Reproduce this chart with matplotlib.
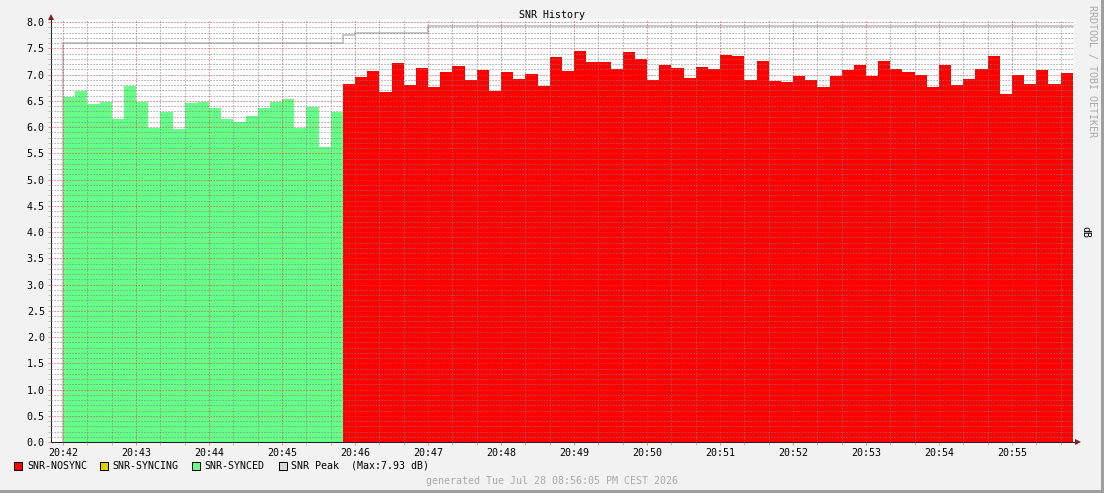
import numpy as np
import matplotlib.pyplot as plt
from matplotlib.patches import Rectangle, Polygon
from matplotlib.ticker import MultipleLocator, FixedLocator, FormatStrFormatter

plt.rcParams['font.family'] = ['DejaVu Sans Mono', 'DejaVu Sans']

W, H = 1104, 493
STEP = 10  # seconds per sample, t=0 is 20:42:00

# SNR samples (dB)
snr_synced = [6.57, 6.69, 6.44, 6.48, 6.15, 6.78, 6.48, 5.99, 6.29, 5.97,
              6.46, 6.48, 6.36, 6.15, 6.09, 6.22, 6.36, 6.48, 6.53, 5.99,
              6.39, 5.62, 6.29]
snr_nosync = [6.82, 6.95, 7.07, 6.67, 7.22, 6.81, 7.12, 6.76, 7.05, 7.16,
              6.90, 7.09, 6.69, 7.05, 6.91, 7.01, 6.79, 7.33, 7.07, 7.45,
              7.24, 7.24, 7.10, 7.43, 7.30, 6.90, 7.18, 7.12, 6.93, 7.14,
              7.10, 7.37, 7.35, 6.90, 7.26, 6.88, 6.86, 6.97, 6.90, 6.76,
              6.97, 7.09, 7.18, 6.97, 7.26, 7.10, 7.05, 7.00, 6.76, 7.18,
              6.81, 6.91, 7.10, 7.35, 6.63, 7.00, 6.82, 7.09, 6.82, 7.03]

# peak line: value changes (time in s, dB)
peak_t = [0, 230, 240, 300, 830]
peak_v = [7.61, 7.75, 7.80, 7.93, 7.93]

time_labels = ['20:42', '20:43', '20:44', '20:45', '20:46', '20:47', '20:48',
               '20:49', '20:50', '20:51', '20:52', '20:53', '20:54', '20:55']

c_nosync = '#ff0000'
c_syncing = '#e0d000'
c_synced = '#66ff88'
c_peak = '#bdbdbd'


def fx(x):
    return x / W


def fy(y):
    return 1 - y / H


fig = plt.figure(figsize=(W / 100, H / 100), dpi=100, facecolor='#f2f2f2')
ax = fig.add_axes([fx(51), fy(442), fx(1074) - fx(51), fy(19) - fy(442)])
ax.set_facecolor('white')

n_s = len(snr_synced)
edges_s = np.arange(n_s + 1) * STEP
edges_n = (np.arange(len(snr_nosync) + 1) + n_s) * STEP

ax.stairs(snr_nosync, edges_n, fill=True, color=c_nosync, baseline=0, zorder=1)
ax.stairs(snr_synced, edges_s, fill=True, color=c_synced, baseline=0, zorder=1)
ax.step([peak_t[0]] + peak_t, [0] + peak_v, where='post', color=c_peak, lw=1.2, zorder=2)

ax.set_xlim(-10, 831)
ax.set_ylim(0, 8.06)

ax.xaxis.set_major_locator(FixedLocator(np.arange(len(time_labels)) * 60))
ax.set_xticklabels(time_labels)
ax.xaxis.set_minor_locator(MultipleLocator(20))
ax.yaxis.set_major_locator(FixedLocator(np.arange(0, 8.01, 0.5)))
ax.yaxis.set_major_formatter(FormatStrFormatter('%.1f'))
ax.yaxis.set_minor_locator(MultipleLocator(0.1))

ax.set_axisbelow(False)
ax.grid(which='minor', color=(0.5, 0.5, 0.5, 0.2), linestyle=(0, (1.4, 2.2)), lw=0.6)
ax.grid(which='major', color=(0.85, 0.25, 0.25, 0.28), linestyle=(0, (1.4, 2.2)), lw=0.6)

ax.tick_params(which='major', length=2, width=0.72, color=(0.87, 0.31, 0.31, 0.6),
               labelsize=7.2, pad=2.5)
ax.tick_params(which='minor', length=2, width=0.72, color=(0.56, 0.56, 0.56, 0.5))

for s in ['top', 'right']:
    ax.spines[s].set_visible(False)
for s in ['left', 'bottom']:
    ax.spines[s].set_color((0.12, 0.12, 0.12))
    ax.spines[s].set_linewidth(0.72)

arrow_c = (0.5, 0.12, 0.12)
fig.add_artist(Polygon([(fx(51), fy(14)), (fx(48), fy(20)), (fx(54), fy(20))],
                       closed=True, transform=fig.transFigure, color=arrow_c, lw=0))
fig.add_artist(Polygon([(fx(1081), fy(442)), (fx(1075), fy(439)), (fx(1075), fy(445))],
                       closed=True, transform=fig.transFigure, color=arrow_c, lw=0))

fig.text(fx(552), fy(15), 'SNR History', ha='center', va='center', fontsize=7.2)
fig.text(fx(1092), fy(5), 'RRDTOOL / TOBI OETIKER', rotation=270, ha='center', va='top',
         fontsize=7.2, color='#a8a8a8')
fig.text(fx(1085), fy(232), 'dB', rotation=270, ha='center', va='center', fontsize=7.2)
fig.text(fx(552), fy(481), 'generated Tue Jul 28 08:56:05 PM CEST 2026', ha='center',
         va='center', fontsize=7.2, color='#aaaaaa')

legend = [(14, 27, c_nosync, 'SNR-NOSYNC'),
          (100, 112, c_syncing, 'SNR-SYNCING'),
          (192, 204, c_synced, 'SNR-SYNCED'),
          (279, 291, '#d8d8d8', 'SNR Peak  (Max:7.93 dB)')]
for bx, tx, col, lab in legend:
    fig.add_artist(Rectangle((fx(bx), fy(470)), 8 / W, 8 / H, transform=fig.transFigure,
                             facecolor=col, edgecolor='black', lw=0.72))
    fig.text(fx(tx), fy(466), lab, ha='left', va='center', fontsize=7.2)

# outer shading
fig.add_artist(Rectangle((0, 0), 1, 3 / H, transform=fig.transFigure, color='#9e9e9e', lw=0))
fig.add_artist(Rectangle((1 - 3 / W, 0), 3 / W, 1, transform=fig.transFigure, color='#9e9e9e', lw=0))

fig.savefig('out.png', dpi=100, facecolor=fig.get_facecolor())
